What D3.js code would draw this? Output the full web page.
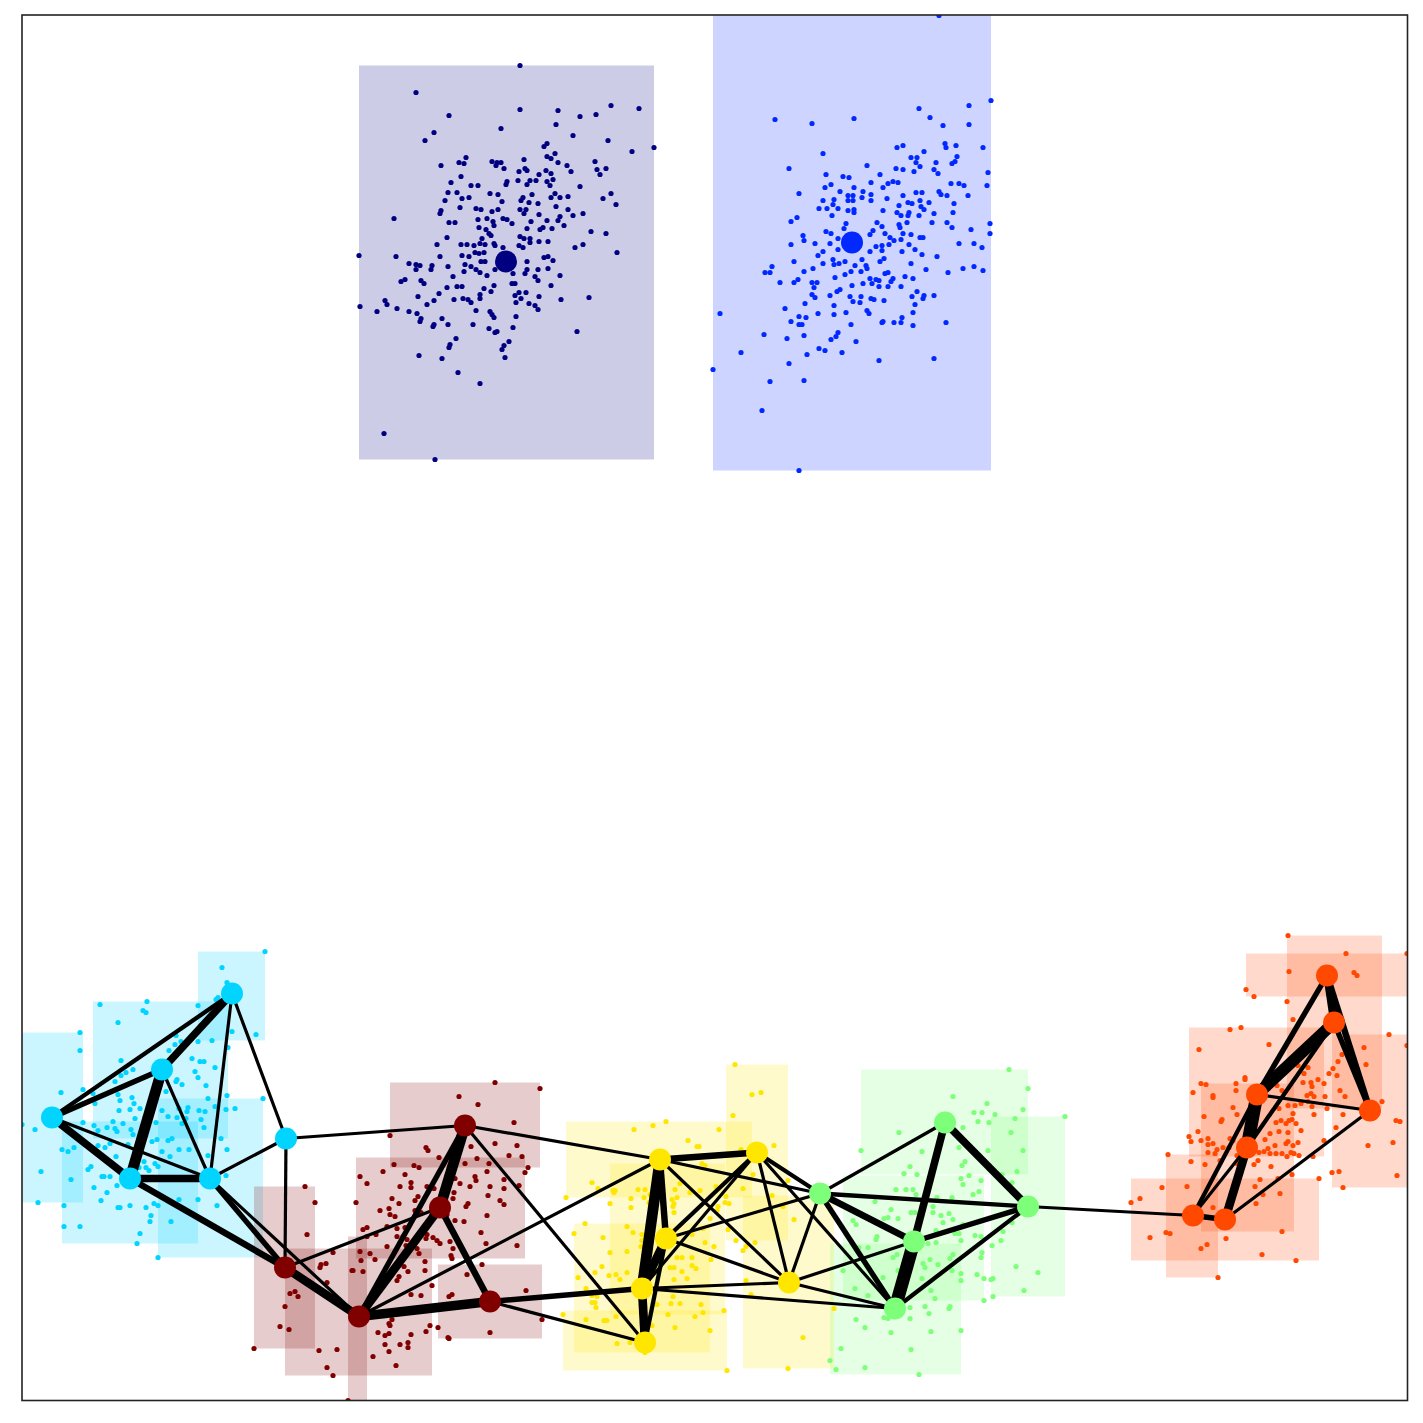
<!DOCTYPE html>
<html>
<head>
<meta charset="utf-8">
<script src="https://cdn.jsdelivr.net/npm/d3@7"></script>
<style>
  body { margin: 0; background: #fff; }
</style>
</head>
<body>
<svg id="chart" width="1423" height="1423"></svg>
<script>

//----------------------------------------------------------------------------------
// data (layout units, y pointing up)

const clusterNames = ["navy", "blue", "cyan", "green", "yellow", "orange", "maroon"];
const clusterColors = ["#000080", "#0028ff", "#00d4ff", "#7dff7a", "#ffe600", "#ff4800", "#800000"];

const nodeNames   = ["N", "U", "A", "B", "C", "D", "E", "F",
                     "M1", "M2", "M3", "M4", "M5",
                     "Y1", "Y2", "Y3", "Y4", "Y5", "Y6",
                     "G1", "G2", "G3", "G4", "G5",
                     "O1", "O2", "O3", "O4", "O5", "O6", "O7"];
const nodeCluster = ["navy", "blue", "cyan", "cyan", "cyan", "cyan", "cyan", "cyan",
                     "maroon", "maroon", "maroon", "maroon", "maroon",
                     "yellow", "yellow", "yellow", "yellow", "yellow", "yellow",
                     "green", "green", "green", "green", "green",
                     "orange", "orange", "orange", "orange", "orange", "orange", "orange"];
const nodeX = [484, 830, 210, 140, 30, 108, 188, 264,
               443, 418, 263, 337, 468,
               638, 735, 644, 620, 623, 767,
               798, 923, 1006, 892, 873,
               1305, 1312, 1235, 1348, 1225, 1171, 1203];
const nodeY = [1139, 1158, 407, 331, 283, 222, 222, 262,
               275, 193, 133, 84, 99,
               241, 248, 162, 112, 58, 118,
               207, 278, 194, 159, 92,
               425, 378, 306, 290, 253, 185, 181];

// [source, target, weight]
const edgeList = [
  ["A", "B", 5], ["A", "C", 2], ["A", "E", 1], ["A", "F", 1], ["B", "C", 3], ["B", "D", 8],
  ["B", "E", 1], ["C", "D", 5], ["C", "E", 1], ["D", "E", 5], ["E", "F", 1],
  ["D", "M3", 4], ["E", "M3", 3], ["E", "M4", 1], ["F", "M1", 1], ["F", "M3", 1],
  ["M1", "M2", 8], ["M1", "M4", 3], ["M2", "M4", 6], ["M2", "M3", 1], ["M2", "M5", 4],
  ["M3", "M4", 6], ["M4", "M5", 7],
  ["M1", "Y1", 1], ["M1", "Y5", 1], ["M4", "Y1", 1], ["M5", "Y4", 3], ["M5", "Y5", 1],
  ["Y1", "Y2", 4], ["Y1", "Y4", 8], ["Y1", "Y3", 4], ["Y3", "Y4", 6], ["Y4", "Y5", 6],
  ["Y3", "Y5", 2], ["Y1", "Y6", 1], ["Y1", "G1", 1], ["Y2", "Y3", 2], ["Y2", "Y4", 1],
  ["Y2", "Y6", 1], ["Y2", "G1", 2], ["Y2", "G5", 1], ["Y3", "G1", 1], ["Y3", "Y6", 1],
  ["Y4", "Y6", 1], ["Y4", "G5", 1], ["Y6", "G1", 1], ["Y6", "G4", 1], ["Y6", "G5", 1],
  ["G1", "G2", 1], ["G1", "G3", 2], ["G1", "G4", 4], ["G1", "G5", 3], ["G2", "G3", 5],
  ["G2", "G4", 5], ["G4", "G5", 10], ["G3", "G4", 3], ["G3", "G5", 2], ["G3", "O6", 1],
  ["O1", "O2", 5], ["O1", "O3", 3], ["O1", "O4", 4], ["O2", "O4", 3], ["O2", "O3", 9],
  ["O2", "O5", 2], ["O3", "O4", 1], ["O3", "O5", 10], ["O3", "O6", 2], ["O4", "O7", 1],
  ["O5", "O7", 6], ["O5", "O6", 1], ["O6", "O7", 3]
];

const navyPts = [[498,1335],[394,1308],[427,1285],[498,1291],[536,1290],[558,1284],[574,1286],[589,1295],[617,1292],[534,1276],[479,1272],[412,1268],[403,1260],[551,1265],[586,1260],[632,1253],[610,1249],[522,1254],[525,1257],[533,1247],[525,1244],[529,1242],[536,1238],[502,1241],[444,1243],[437,1238],[442,1237],[419,1235],[470,1239],[475,1238],[479,1238],[474,1235],[482,1232],[497,1229],[503,1232],[505,1230],[517,1226],[524,1230],[529,1227],[531,1221],[525,1219],[528,1215],[545,1235],[549,1229],[573,1239],[575,1231],[584,1232],[578,1226],[439,1224],[429,1218],[449,1215],[456,1215],[485,1219],[484,1216],[496,1220],[508,1220],[514,1220],[505,1216],[558,1214],[426,1208],[435,1208],[468,1207],[476,1206],[423,1200],[440,1202],[447,1203],[480,1199],[501,1203],[499,1200],[507,1198],[516,1197],[510,1206],[529,1203],[533,1207],[538,1203],[546,1204],[581,1202],[589,1207],[594,1196],[418,1187],[419,1190],[438,1193],[454,1192],[459,1191],[470,1189],[476,1191],[498,1191],[504,1191],[502,1187],[517,1186],[534,1194],[546,1191],[551,1185],[561,1187],[372,1182],[427,1178],[433,1178],[456,1181],[457,1173],[465,1182],[471,1179],[472,1175],[481,1182],[485,1181],[490,1177],[509,1179],[525,1180],[536,1180],[538,1184],[542,1175],[505,1172],[518,1171],[521,1173],[530,1172],[569,1169],[584,1167],[464,1171],[467,1167],[425,1163],[460,1162],[469,1165],[472,1157],[498,1164],[502,1162],[508,1162],[508,1158],[517,1159],[526,1159],[415,1156],[439,1156],[445,1156],[452,1155],[458,1157],[463,1156],[473,1155],[481,1153],[497,1155],[501,1153],[561,1156],[553,1153],[595,1148],[337,1145],[374,1144],[418,1144],[440,1145],[447,1144],[453,1148],[457,1147],[462,1148],[505,1139],[522,1143],[526,1144],[531,1140],[387,1137],[394,1136],[398,1135],[410,1135],[426,1134],[443,1136],[449,1134],[454,1131],[459,1139],[463,1139],[409,1131],[394,1131],[442,1129],[458,1128],[465,1125],[473,1131],[491,1127],[503,1127],[505,1131],[516,1131],[526,1132],[513,1124],[516,1120],[538,1125],[379,1119],[383,1121],[399,1120],[402,1117],[431,1124],[435,1114],[440,1114],[425,1113],[472,1115],[490,1117],[493,1117],[529,1115],[396,1104],[417,1107],[412,1100],[405,1096],[432,1101],[441,1102],[446,1101],[449,1098],[458,1106],[458,1102],[469,1109],[462,1112],[493,1105],[497,1108],[504,1108],[517,1104],[494,1098],[499,1102],[507,1097],[513,1095],[516,1091],[539,1101],[567,1103],[363,1100],[365,1096],[375,1092],[338,1094],[355,1089],[387,1089],[395,1087],[399,1082],[398,1079],[420,1082],[426,1076],[412,1076],[411,1074],[454,1090],[468,1089],[470,1086],[472,1083],[494,1084],[451,1076],[467,1072],[473,1068],[475,1069],[491,1073],[555,1069],[434,1062],[428,1056],[427,1053],[487,1059],[482,1055],[480,1051],[397,1045],[420,1042],[483,1043],[436,1028],[458,1017],[362,967],[413,941]];

const bluePts = [[917,1385],[969,1300],[947,1295],[897,1292],[908,1283],[921,1275],[947,1276],[753,1281],[790,1277],[832,1282],[801,1247],[767,1232],[845,1235],[875,1253],[881,1255],[923,1257],[924,1253],[934,1255],[961,1253],[889,1243],[895,1243],[894,1238],[898,1234],[902,1249],[892,1229],[874,1232],[881,1231],[914,1238],[912,1231],[916,1227],[930,1237],[933,1239],[935,1244],[966,1228],[965,1215],[804,1226],[821,1224],[827,1223],[849,1218],[858,1226],[861,1213],[866,1217],[871,1219],[876,1218],[803,1213],[809,1216],[832,1213],[841,1209],[849,1206],[849,1200],[840,1203],[818,1209],[826,1205],[831,1205],[831,1200],[826,1200],[777,1207],[801,1200],[797,1192],[805,1192],[812,1201],[811,1196],[816,1192],[810,1185],[826,1190],[832,1191],[832,1188],[865,1202],[881,1205],[877,1195],[886,1198],[890,1197],[894,1208],[900,1208],[898,1200],[907,1198],[899,1194],[902,1191],[897,1185],[912,1187],[861,1190],[875,1188],[879,1185],[887,1188],[886,1185],[885,1178],[877,1176],[878,1173],[917,1209],[919,1206],[925,1205],[929,1217],[937,1217],[942,1215],[946,1205],[932,1197],[931,1188],[925,1178],[930,1173],[910,1178],[949,1171],[968,1177],[968,1167],[769,1179],[775,1183],[824,1177],[855,1178],[860,1174],[851,1170],[848,1166],[863,1167],[868,1163],[881,1167],[879,1161],[889,1166],[898,1163],[901,1163],[781,1165],[782,1160],[769,1156],[793,1157],[804,1169],[809,1167],[808,1157],[816,1162],[816,1151],[822,1172],[801,1149],[796,1145],[848,1149],[854,1154],[860,1155],[860,1150],[867,1156],[872,1160],[887,1156],[880,1149],[893,1151],[900,1146],[937,1157],[952,1157],[960,1153],[915,1144],[772,1139],[750,1134],[743,1128],[748,1128],[758,1118],[772,1118],[776,1121],[782,1129],[791,1132],[801,1137],[811,1141],[812,1136],[817,1137],[823,1139],[833,1135],[840,1141],[844,1135],[845,1132],[858,1139],[862,1142],[839,1129],[829,1129],[823,1126],[813,1123],[848,1122],[854,1121],[857,1120],[863,1127],[866,1128],[871,1122],[869,1119],[850,1117],[857,1114],[866,1114],[879,1114],[883,1124],[891,1122],[889,1137],[904,1131],[926,1128],[941,1132],[952,1134],[961,1130],[790,1118],[795,1118],[792,1113],[790,1106],[793,1103],[808,1105],[815,1109],[818,1111],[830,1115],[841,1117],[828,1104],[831,1099],[839,1104],[838,1098],[849,1102],[852,1101],[862,1100],[895,1109],[890,1104],[901,1102],[902,1105],[912,1105],[893,1096],[891,1088],[891,1075],[880,1083],[879,1078],[872,1078],[860,1078],[861,1079],[845,1090],[847,1087],[812,1095],[812,1086],[824,1088],[829,1076],[783,1097],[763,1092],[777,1084],[784,1083],[769,1079],[777,1076],[780,1076],[796,1087],[924,1078],[698,1087],[742,1066],[765,1062],[782,1065],[809,1061],[814,1064],[816,1068],[834,1059],[797,1052],[803,1050],[820,1048],[785,1046],[719,1048],[767,1037],[857,1040],[912,1042],[691,1031],[748,1019],[782,1020],[740,990],[777,930]];

const cyanA = [[243,449],[200,433],[205,418],[196,403],[194,401],[176,395],[210,369],[234,366],[190,360]];
const cyanB = [[78,396],[125,399],[121,390],[124,388],[96,378],[154,365],[159,359],[153,356],[147,350],[176,359],[206,353],[99,340],[111,331],[104,328],[99,325],[93,319],[170,342],[178,339],[182,339],[193,333],[173,329],[176,323],[155,321],[154,319],[160,316],[184,315],[71,307],[96,306],[98,300],[110,303],[112,297],[144,309],[73,297],[97,290],[108,291],[118,292],[113,282],[123,283],[199,262],[193,294],[186,302],[182,273],[179,281],[205,305],[166,293],[165,289],[177,290],[183,289],[140,290],[157,292],[146,284],[155,283],[160,277],[164,282],[134,278]];
const cyanC = [[58,368],[58,350],[61,311],[39,308],[13,271],[0,276],[19,229],[16,198]];
const cyanD = [[61,278],[72,275],[76,270],[85,273],[91,279],[93,272],[95,269],[101,277],[109,271],[40,251],[46,249],[52,253],[76,255],[83,253],[88,257],[94,244],[106,256],[111,266],[66,231],[69,234],[80,224],[82,224],[88,224],[95,215],[117,233],[122,239],[124,233],[127,230],[49,221],[72,213],[85,208],[79,200],[42,195],[108,195],[98,193],[96,193],[124,193],[132,197],[42,174],[58,174],[118,167],[115,157],[176,201],[130,259],[135,261],[133,237],[129,185],[128,179]];
const cyanE = [[241,302],[213,292],[204,291],[205,251],[186,245],[204,225],[157,251],[167,251],[140,249],[148,244],[146,260],[150,262],[136,234],[136,195],[149,179],[195,195],[157,201],[136,143]];

const maroon1 = [[473,318],[518,312],[437,304],[456,296],[492,278],[368,265],[404,253],[406,250],[449,254],[473,257],[495,255],[487,245],[500,244],[455,242],[467,237],[443,237],[506,233]];
const maroon2 = [[417,243],[503,228],[465,229],[372,236],[392,235],[397,233],[383,226],[361,229],[338,224],[345,217],[389,218],[389,213],[378,214],[405,214],[412,212],[433,222],[438,217],[448,214],[453,224],[454,220],[468,214],[482,221],[482,212],[497,215],[466,205],[478,200],[482,196],[432,208],[431,202],[446,197],[444,194],[370,202],[377,197],[334,198],[358,190],[367,192],[368,186],[373,184],[393,200],[396,204],[399,188],[393,190],[410,186],[425,186],[433,180],[442,179],[465,185],[459,168],[464,157],[495,155],[383,173],[375,172],[365,174],[345,173],[341,171],[354,166],[365,154],[375,164],[381,164],[385,161],[384,155],[411,163],[415,160],[418,157],[428,159],[431,152],[429,145],[430,142],[405,166],[404,162]];
const maroon3 = [[283,214],[293,198],[285,166],[273,109],[276,104],[268,107],[258,74],[232,52],[267,71]];
const maroon4 = [[338,149],[311,148],[348,147],[353,141],[339,140],[395,152],[397,147],[382,134],[377,124],[375,120],[386,129],[403,139],[403,130],[410,115],[399,105],[389,106],[408,75],[404,69],[367,77],[370,81],[368,75],[356,68],[363,65],[367,67],[363,56],[389,66],[378,56],[386,58],[386,53],[367,49],[351,44],[374,35],[304,137],[299,136],[298,133],[305,118],[263,94],[297,50],[315,51],[305,33],[311,25]];
const maroon5 = [[326,0],[330,130],[331,130],[341,129],[345,164]];
const maroon6 = [[460,136],[445,126],[430,106],[427,104],[504,110],[520,81],[468,68],[427,62],[426,63],[416,73]];

const yellowA = [[612,271],[631,275],[644,279],[697,271],[666,260],[675,254],[677,254],[570,218],[576,212],[591,210],[593,210],[592,208],[616,211],[623,211],[653,211],[658,217],[668,208],[678,210],[694,214],[544,203],[730,246]];
const yellowB = [[713,336],[730,306],[739,308],[711,285],[752,255],[719,251],[731,226],[766,220],[704,204],[707,197],[721,212],[761,194],[706,171],[714,160]];
const yellowC = [[680,237],[683,235],[628,206],[609,202],[622,203],[627,198],[609,193],[588,197],[650,201],[652,197],[655,203],[651,194],[652,188],[688,182],[696,194],[695,190],[703,198],[605,174],[611,168],[620,166],[620,160],[619,154],[670,166],[681,172],[683,158],[692,154],[689,141],[655,143],[660,143],[670,143],[652,133],[648,133],[670,135],[674,132],[660,129],[665,122],[652,121],[635,96],[649,97],[651,104],[658,97],[646,86]];
const yellowD = [[563,177],[552,167],[581,163],[588,148],[605,149],[580,134],[573,128],[587,125],[594,126],[598,121],[605,128],[556,123],[564,112],[570,105],[575,104],[573,98],[570,98],[574,93],[679,96],[681,88],[673,84],[688,70],[653,73],[595,57],[608,58],[623,48]];
const yellowE = [[541,86],[564,81],[582,80],[585,80],[594,84],[630,75],[702,90],[705,30]];
const yellowF = [[724,154],[721,150],[733,158],[724,120],[729,106],[781,63],[772,181],[750,205],[812,92],[766,32]];

const greenA = [[987,331],[1006,312],[931,304],[965,297],[952,288],[960,288],[973,286],[1001,291],[956,279],[967,278],[993,282],[941,273],[877,268],[989,268],[839,250],[900,249],[937,253],[966,250],[1001,250],[943,239],[940,235],[888,234],[882,227],[895,226],[995,229]];
const greenB = [[1043,284],[980,226],[990,218],[970,155],[979,160],[981,169],[990,178],[994,134],[1016,128],[1002,110],[971,104],[969,121],[971,122]];
const greenC = [[947,225],[939,222],[941,216],[959,220],[874,211],[884,211],[891,211],[894,206],[915,203],[930,203],[951,206],[957,209],[853,199],[911,194],[869,191],[862,182],[866,183],[876,182],[889,188],[893,188],[911,188],[919,185],[927,187],[931,181],[921,178],[831,180],[834,176],[855,164],[854,161],[837,153],[846,153],[941,176],[937,167],[933,167],[914,170],[914,158],[939,160],[953,165],[959,164],[960,148],[959,143],[962,122],[955,126],[962,100],[821,130]];
const greenD = [[906,157],[939,127],[939,120],[930,130],[931,146],[928,142],[916,136],[908,141],[901,137],[903,133],[900,122],[909,110],[913,102],[903,94],[907,87],[928,94],[927,92],[871,143],[875,146],[876,130],[861,123],[833,112],[846,105],[888,93],[888,82],[862,83],[866,82],[834,81],[843,73],[869,68],[909,69],[939,70],[819,52],[889,51],[843,33],[814,31],[897,26],[808,40]];

const orangeA = [[1266,465],[1267,429],[1332,428],[1335,425],[1265,399],[1271,381],[1282,327],[1286,333],[1276,335],[1296,321],[1307,327],[1311,332],[1315,325],[1316,339],[1320,346],[1344,336],[1342,353],[1281,318],[1289,318],[1290,314],[1302,317],[1289,307],[1285,305],[1292,304],[1303,304],[1318,310],[1323,304],[1305,292],[1360,299]];
const orangeB = [[1324,447],[1385,447],[1224,411],[1232,404]];
const orangeC = [[1208,371],[1219,373],[1177,351],[1247,356],[1223,323],[1223,321],[1171,308],[1167,264],[1169,259],[1176,269],[1214,317],[1214,310],[1255,315],[1260,310],[1266,295],[1273,295],[1279,297],[1286,299],[1290,294],[1292,286],[1302,260],[1291,244],[1279,270],[1266,268],[1257,269],[1248,267],[1266,259],[1276,258],[1271,255],[1264,257],[1277,245],[1274,277]];
const orangeD = [[1179,317],[1184,316],[1191,305],[1191,303],[1182,284],[1200,281],[1199,279],[1211,293],[1215,286],[1257,292],[1271,287],[1254,278],[1259,280],[1264,277],[1267,280],[1270,281],[1243,261],[1253,255],[1246,252],[1233,254],[1237,248],[1242,249],[1248,247],[1254,247],[1260,247],[1265,244],[1269,248],[1272,247],[1179,260],[1186,262],[1186,256],[1191,257],[1195,251],[1186,248],[1193,247],[1198,240],[1201,253],[1207,253],[1211,260],[1208,262],[1215,245],[1215,237],[1232,236],[1236,240],[1249,234],[1270,226],[1256,222],[1238,221],[1233,214],[1241,206],[1258,207],[1234,197],[1260,169]];
const orangeE = [[1367,366],[1385,355],[1314,273],[1346,255],[1371,258],[1374,280],[1378,279],[1310,228],[1317,229],[1321,213],[1375,225],[1321,286]];
const orangeF = [[1297,222],[1140,213],[1118,202],[1109,198],[1191,193],[1185,156],[1179,152],[1204,162],[1240,146],[1274,140],[1128,163]];
const orangeG = [[1146,246],[1169,239],[1183,236],[1165,214],[1144,168],[1148,167],[1196,123]];

const pointGroups = [
  ["navy", navyPts], ["blue", bluePts],
  ["cyan", cyanA], ["cyan", cyanB], ["cyan", cyanC], ["cyan", cyanD], ["cyan", cyanE],
  ["maroon", maroon1], ["maroon", maroon2], ["maroon", maroon3], ["maroon", maroon4], ["maroon", maroon5], ["maroon", maroon6],
  ["yellow", yellowA], ["yellow", yellowB], ["yellow", yellowC], ["yellow", yellowD], ["yellow", yellowE], ["yellow", yellowF],
  ["green", greenA], ["green", greenB], ["green", greenC], ["green", greenD],
  ["orange", orangeA], ["orange", orangeB], ["orange", orangeC], ["orange", orangeD], ["orange", orangeE], ["orange", orangeF], ["orange", orangeG]
];

//----------------------------------------------------------------------------------
// scales

const plotLeft = 22, plotTop = 15, plotSize = 1385.5;

const x = d3.scaleLinear().domain([0, plotSize]).range([plotLeft, plotLeft + plotSize]);
const y = d3.scaleLinear().domain([0, plotSize]).range([plotTop + plotSize, plotTop]);
const edgeWidth = d3.scaleLinear().domain([1, 10]).range([3.2, 13]);
const color = d3.scaleOrdinal().domain(clusterNames).range(clusterColors);

const nodes = nodeNames.map((name, i) => ({ name, cluster: nodeCluster[i], x: nodeX[i], y: nodeY[i] }));
const byName = new Map(nodes.map(d => [d.name, d]));
const links = edgeList.map(([s, t, w]) => ({ source: byName.get(s), target: byName.get(t), weight: w }));

const svg = d3.select("#chart");

svg.append("defs").append("clipPath").attr("id", "plot-clip")
  .append("rect")
  .attr("x", plotLeft).attr("y", plotTop)
  .attr("width", plotSize).attr("height", plotSize);

const plot = svg.append("g").attr("clip-path", "url(#plot-clip)");

//----------------------------------------------------------------------------------
// bounding boxes of each point group

plot.append("g")
  .selectAll("rect")
  .data(pointGroups)
  .join("rect")
  .attr("x", d => x(d3.min(d[1], p => p[0])))
  .attr("y", d => y(d3.max(d[1], p => p[1])))
  .attr("width", d => x(d3.max(d[1], p => p[0])) - x(d3.min(d[1], p => p[0])))
  .attr("height", d => y(d3.min(d[1], p => p[1])) - y(d3.max(d[1], p => p[1])))
  .attr("fill", d => color(d[0]))
  .attr("fill-opacity", 0.2);

// scattered members
plot.append("g")
  .selectAll("g")
  .data(pointGroups)
  .join("g")
  .attr("fill", d => color(d[0]))
  .selectAll("circle")
  .data(d => d[1])
  .join("circle")
  .attr("cx", p => x(p[0]))
  .attr("cy", p => y(p[1]))
  .attr("r", 2.6);

// edges
plot.append("g")
  .attr("stroke", "#000")
  .selectAll("line")
  .data(links)
  .join("line")
  .attr("x1", d => x(d.source.x))
  .attr("y1", d => y(d.source.y))
  .attr("x2", d => x(d.target.x))
  .attr("y2", d => y(d.target.y))
  .attr("stroke-width", d => edgeWidth(d.weight));

// nodes
plot.append("g")
  .selectAll("circle")
  .data(nodes)
  .join("circle")
  .attr("cx", d => x(d.x))
  .attr("cy", d => y(d.y))
  .attr("r", 11)
  .attr("fill", d => color(d.cluster));

// frame
svg.append("rect")
  .attr("x", plotLeft).attr("y", plotTop)
  .attr("width", plotSize).attr("height", plotSize)
  .attr("fill", "none")
  .attr("stroke", "#222")
  .attr("stroke-width", 1.6);

</script>
</body>
</html>
